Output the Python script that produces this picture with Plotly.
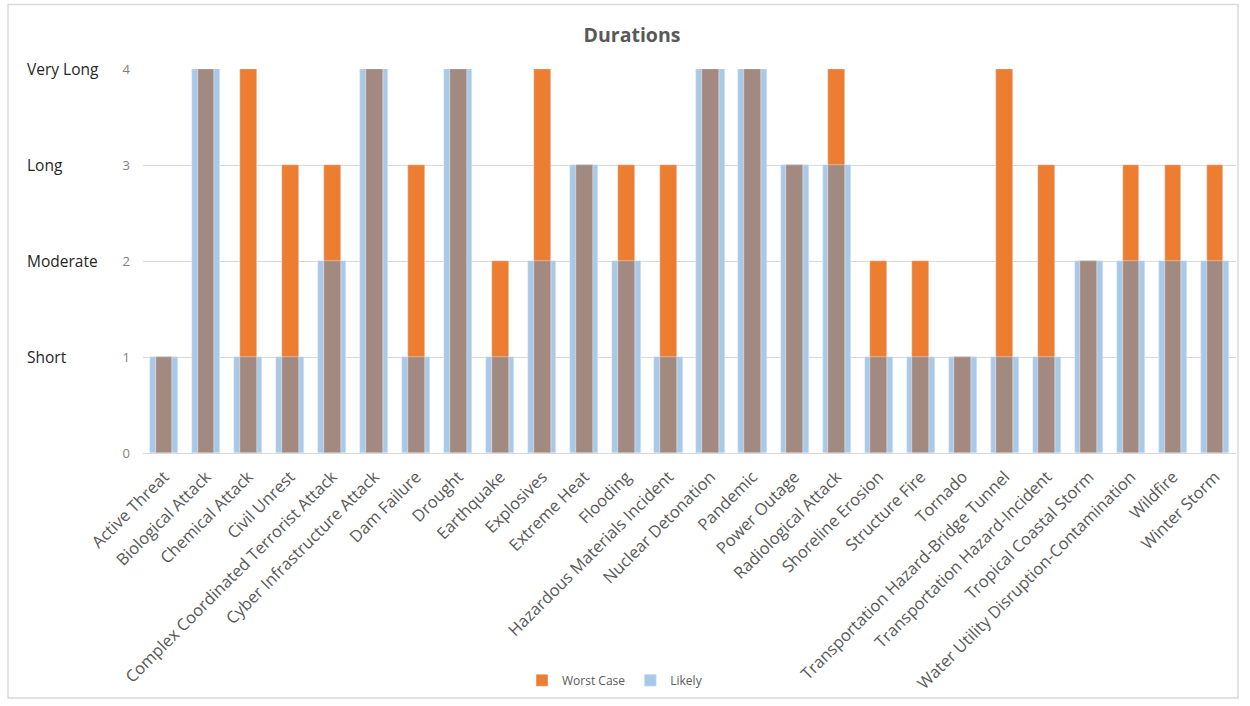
import plotly.graph_objects as go

categories = [
    "Active Threat", "Biological Attack", "Chemical Attack", "Civil Unrest",
    "Complex Coordinated Terrorist Attack", "Cyber Infrastructure Attack",
    "Dam Failure", "Drought", "Earthquake", "Explosives", "Extreme Heat",
    "Flooding", "Hazardous Materials Incident", "Nuclear Detonation",
    "Pandemic", "Power Outage", "Radiological Attack", "Shoreline Erosion",
    "Structure Fire", "Tornado", "Transportation Hazard-Bridge Tunnel",
    "Transportation Hazard-Incident", "Tropical Coastal Storm",
    "Water Utility Disruption-Contamination", "Wildfire", "Winter Storm",
]
worst_case = [1, 4, 4, 3, 3, 4, 3, 4, 2, 4, 3, 3, 3, 4, 4, 3, 4, 2, 2, 1, 4, 3, 2, 3, 3, 3]
likely = [1, 4, 1, 1, 2, 4, 1, 4, 1, 2, 3, 2, 1, 4, 4, 3, 3, 1, 1, 1, 1, 1, 2, 2, 2, 2]

duration_names = ["Short", "Moderate", "Long", "Very Long"]
duration_levels = [1, 2, 3, 4]
tick_values = [0, 1, 2, 3, 4]

ORANGE = "#ED7D31"
BLUE = "#A9C9E9"
BROWN = "#A28A80"
FONT = "Open Sans"

fig = go.Figure()
fig.add_trace(go.Bar(x=categories, y=likely, name="Likely", marker_color=BLUE,
                     width=0.67, legendrank=2))
fig.add_trace(go.Bar(x=categories, y=worst_case, name="Worst Case", marker_color=ORANGE,
                     width=0.40, legendrank=1))
# blended region where the likely bar overlaps the worst-case bar
fig.add_trace(go.Bar(x=categories, y=likely, name="overlap", marker_color=BROWN,
                     width=0.40, showlegend=False, hoverinfo="skip"))

L, R, T, B = 143, 14, 69, 250
W, H = 1250, 706
pw, ph = W - L - R, H - T - B


def px_x(x):
    return (x - L) / pw


def px_y(y):
    return (H - B - y) / ph


annotations = [
    dict(text=name, x=px_x(25), y=lvl, xref="paper", yref="y", xanchor="left",
         yanchor="middle", showarrow=False,
         font=dict(family=FONT, size=15.5, color="#262626"))
    for name, lvl in zip(duration_names, duration_levels)
]

fig.update_layout(
    width=W, height=H,
    margin=dict(l=L, r=R, t=T, b=B),
    paper_bgcolor="white", plot_bgcolor="white",
    barmode="overlay", bargap=0,
    title=dict(text="<b>Durations</b>", x=px_x(632), xanchor="center", xref="paper",
               y=1 - 35 / H, yanchor="middle",
               font=dict(family=FONT, size=19.5, color="#595959")),
    font=dict(family=FONT, color="#595959"),
    xaxis=dict(tickangle=-45, tickfont=dict(size=16.5, color="#595959"),
               showgrid=False, showline=False, ticks="", range=[-0.5, 25.5],
               ticklabelstandoff=10),
    yaxis=dict(range=[0, 4], tickvals=tick_values, showgrid=True,
               gridcolor="#D9D9D9", gridwidth=1, zeroline=True,
               zerolinecolor="#D9D9D9", zerolinewidth=1,
               tickfont=dict(size=13, color="#7F7F7F"), ticklabelstandoff=12),
    legend=dict(orientation="h", x=px_x(615), xanchor="center", y=px_y(685),
                yanchor="middle", font=dict(size=12, color="#595959"),
                traceorder="normal", itemwidth=30),
    annotations=annotations,
    shapes=[dict(type="rect", xref="paper", yref="paper",
                 x0=px_x(8), x1=px_x(1238), y0=px_y(703), y1=px_y(4),
                 line=dict(color="#D9D9D9", width=1.5), layer="below")],
)

fig.write_html("out.html")
